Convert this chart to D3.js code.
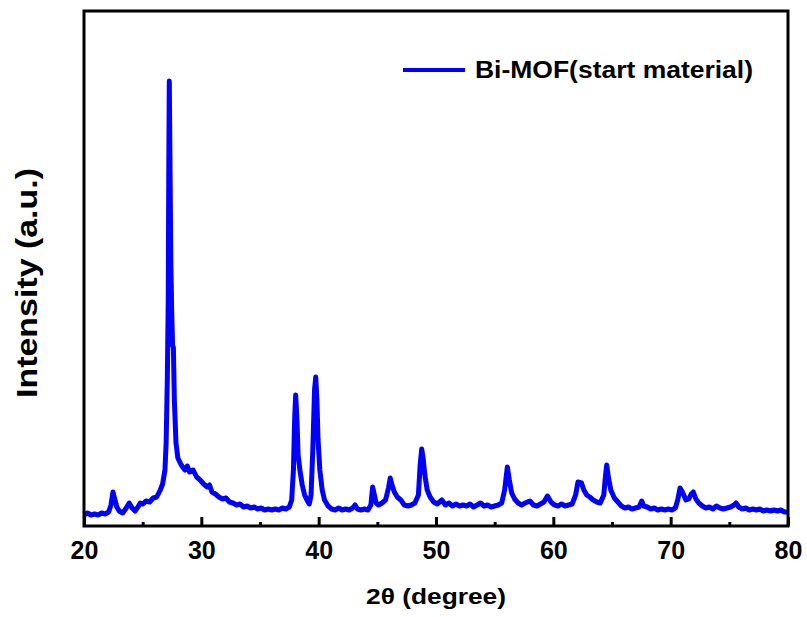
<!DOCTYPE html>
<html>
<head>
<meta charset="utf-8">
<script src="https://cdn.jsdelivr.net/npm/d3@7/dist/d3.min.js"></script>
<style>
  body { margin: 0; background: #fff; }
  text { font-family: "Liberation Sans", Arial, sans-serif; font-weight: bold; }
</style>
</head>
<body>
<div id="chart"></div>
<script>
// 2theta positions (degree)
var twoTheta = [
  20.0, 20.3, 20.6, 20.9, 21.2, 21.5, 21.8, 22.1, 22.3, 22.47, 22.6, 22.8, 23.0, 23.3, 23.6, 23.85,
  24.1, 24.35, 24.6, 24.8, 25.0, 25.3, 25.6, 25.9, 26.2, 26.5, 26.7, 26.9, 27.0, 27.1, 27.18, 27.23,
  27.27, 27.32, 27.4, 27.47, 27.55, 27.62, 27.7, 27.84, 28.0, 28.2, 28.4, 28.6, 28.8, 29.0, 29.3, 29.6,
  29.9, 30.2, 30.5, 30.7, 30.9, 31.2, 31.5, 31.8, 32.1, 32.4, 32.7, 33.0, 33.3, 33.6, 33.9, 34.2,
  34.5, 34.8, 35.1, 35.4, 35.7, 36.0, 36.3, 36.6, 36.9, 37.2, 37.5, 37.7, 37.85, 37.95, 38.04, 38.15,
  38.25, 38.4, 38.6, 38.8, 39.0, 39.2, 39.35, 39.5, 39.65, 39.75, 39.85, 39.95, 40.1, 40.3, 40.5, 40.8,
  41.1, 41.4, 41.7, 42.0, 42.3, 42.6, 42.9, 43.1, 43.3, 43.6, 43.9, 44.2, 44.45, 44.6, 44.75, 44.9,
  45.1, 45.4, 45.7, 45.95, 46.1, 46.25, 46.45, 46.7, 47.0, 47.3, 47.6, 47.9, 48.2, 48.5, 48.65, 48.78,
  48.9, 49.05, 49.25, 49.5, 49.8, 50.1, 50.5, 50.8, 51.1, 51.4, 51.7, 52.0, 52.3, 52.6, 52.9, 53.2,
  53.5, 53.8, 54.1, 54.4, 54.7, 55.0, 55.3, 55.6, 55.85, 56.08, 56.25, 56.45, 56.7, 57.0, 57.3, 57.6,
  58.0, 58.3, 58.6, 58.9, 59.2, 59.5, 59.8, 60.1, 60.4, 60.7, 61.0, 61.3, 61.6, 61.9, 62.1, 62.4,
  62.6, 62.85, 63.1, 63.4, 63.7, 64.0, 64.3, 64.45, 64.55, 64.7, 64.9, 65.2, 65.5, 65.8, 66.1, 66.4,
  66.7, 67.0, 67.3, 67.53, 67.7, 68.0, 68.3, 68.6, 68.9, 69.2, 69.5, 69.8, 70.1, 70.4, 70.6, 70.8,
  71.0, 71.3, 71.55, 71.75, 71.93, 72.15, 72.4, 72.7, 73.0, 73.3, 73.6, 73.9, 74.2, 74.5, 74.8, 75.1,
  75.4, 75.57, 75.8, 76.1, 76.4, 76.7, 77.0, 77.3, 77.6, 77.9, 78.2, 78.5, 78.8, 79.1, 79.4, 79.7, 80.0
];

// intensity (a.u.), same order as twoTheta
var intensity = [
  110, 130, 110, 120, 110, 130, 120, 140, 210, 340, 280, 190, 150, 130, 180, 230,
  180, 150, 190, 230, 220, 250, 240, 280, 290, 360, 420, 560, 830, 1460, 2260, 3660,
  4450, 3760, 2660, 2160, 1810, 1780, 1260, 830, 680, 630, 590, 560, 600, 540, 560, 490,
  460, 420, 390, 410, 340, 320, 290, 270, 280, 240, 230, 210, 220, 190, 200, 180,
  190, 170, 180, 160, 170, 160, 170, 160, 180, 170, 190, 260, 560, 1060, 1310, 1060,
  710, 560, 410, 310, 260, 220, 310, 760, 1360, 1490, 1260, 860, 560, 360, 260, 200,
  170, 160, 180, 160, 170, 160, 180, 210, 170, 160, 170, 160, 210, 390, 310, 230,
  210, 230, 260, 380, 480, 410, 340, 290, 260, 210, 200, 210, 230, 310, 610, 770,
  680, 510, 360, 290, 240, 220, 260, 210, 230, 200, 220, 200, 210, 200, 220, 190,
  210, 230, 200, 210, 190, 200, 210, 230, 360, 590, 460, 330, 270, 230, 210, 230,
  250, 210, 200, 220, 240, 300, 240, 210, 200, 220, 200, 210, 220, 310, 440, 430,
  360, 310, 290, 260, 240, 230, 310, 510, 610, 480, 360, 280, 240, 200, 180, 190,
  170, 180, 190, 250, 200, 190, 170, 180, 160, 170, 160, 170, 160, 180, 260, 380,
  340, 260, 270, 320, 340, 270, 230, 200, 180, 190, 170, 200, 180, 170, 180, 190,
  210, 230, 190, 170, 180, 160, 170, 160, 170, 150, 160, 150, 160, 150, 160, 140, 140
];

var seriesName = "Bi-MOF(start material)";
var xMajorTicks = [20, 30, 40, 50, 60, 70, 80];
var xMinorTicks = [25, 35, 45, 55, 65, 75];

var width = 807, height = 617;
var margin = {left: 84, right: 19, top: 11, bottom: 91};

var svg = d3.select("#chart").append("svg")
    .attr("width", width)
    .attr("height", height);

var x = d3.scaleLinear()
    .domain([20, 80])
    .range([margin.left, width - margin.right]);

var y = d3.scaleLinear()
    .domain([0, 5150])
    .range([height - margin.bottom, margin.top]);

var points = twoTheta.map(function(t, i) { return [t, intensity[i]]; });

var line = d3.line()
    .x(function(d) { return x(d[0]); })
    .y(function(d) { return y(d[1]); });

svg.append("path")
    .datum(points)
    .attr("fill", "none")
    .attr("stroke", "#0000ff")
    .attr("stroke-width", 5)
    .attr("stroke-linejoin", "round")
    .attr("d", line);

// ticks point inward
var bottom = height - margin.bottom;

var xAxis = svg.append("g")
    .attr("transform", "translate(0," + bottom + ")")
    .call(d3.axisBottom(x).tickValues(xMajorTicks).tickSize(-9).tickPadding(15).tickFormat(d3.format("d")));
xAxis.select(".domain").remove();
xAxis.selectAll("line").attr("stroke", "#000").attr("stroke-width", 3);
xAxis.selectAll("text")
    .attr("fill", "#000")
    .style("font-size", "25px");

var xMinor = svg.append("g")
    .attr("transform", "translate(0," + bottom + ")")
    .call(d3.axisBottom(x).tickValues(xMinorTicks).tickSize(-4).tickFormat(""));
xMinor.select(".domain").remove();
xMinor.selectAll("line").attr("stroke", "#000").attr("stroke-width", 3);

// frame
svg.append("rect")
    .attr("x", margin.left)
    .attr("y", margin.top)
    .attr("width", width - margin.left - margin.right)
    .attr("height", height - margin.top - margin.bottom)
    .attr("fill", "none")
    .attr("stroke", "#000")
    .attr("stroke-width", 3);

// legend
var legend = svg.append("g");
legend.append("line")
    .attr("x1", 403).attr("x2", 465)
    .attr("y1", 70).attr("y2", 70)
    .attr("stroke", "#0000ff")
    .attr("stroke-width", 4);
legend.append("text")
    .attr("x", 475)
    .attr("y", 78)
    .attr("textLength", 278)
    .attr("lengthAdjust", "spacingAndGlyphs")
    .style("font-size", "23px")
    .text(seriesName);

// axis titles
svg.append("text")
    .attr("x", 436)
    .attr("y", 604)
    .attr("text-anchor", "middle")
    .attr("textLength", 140)
    .attr("lengthAdjust", "spacingAndGlyphs")
    .style("font-size", "22px")
    .text("2\u03b8 (degree)");

svg.append("text")
    .attr("transform", "translate(37,283) rotate(-90)")
    .attr("text-anchor", "middle")
    .attr("textLength", 230)
    .attr("lengthAdjust", "spacingAndGlyphs")
    .style("font-size", "30px")
    .text("Intensity (a.u.)");
</script>
</body>
</html>
